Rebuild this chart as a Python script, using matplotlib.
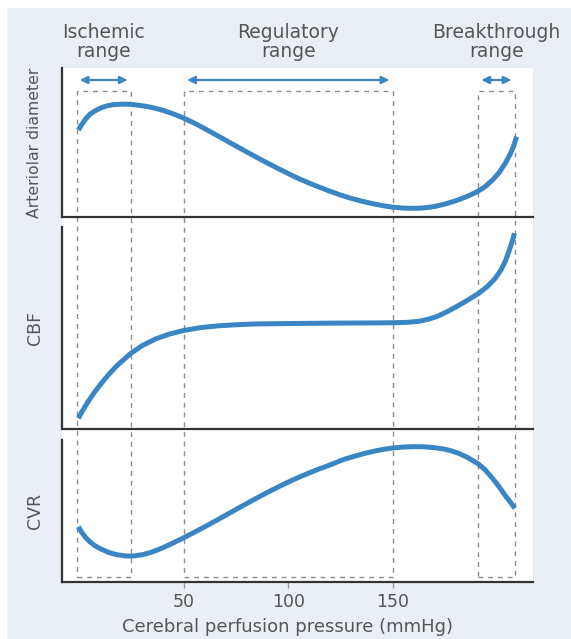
import matplotlib
matplotlib.use("Agg")
import matplotlib.pyplot as plt
from matplotlib.patches import Rectangle

# ---------------- data ----------------
x_diam = [-0.6, 1, 3, 5, 7.5, 10, 13, 16, 20, 24, 28, 32, 36, 40, 45, 50, 55, 60, 65,
          70, 75, 80, 85, 90, 95, 100, 105, 110, 115, 120, 125, 130, 135, 140, 145,
          150, 155, 160, 165, 170, 175, 180, 185, 190, 194, 198, 201, 204, 206.5,
          208, 209.4]
y_diam = [58.3, 62, 66, 69, 71.3, 73.1, 74.5, 75.3, 75.7, 75.6, 75.0, 74.2, 73.0,
          71.5, 69.1, 66.2, 62.9, 59.2, 55.3, 51.4, 47.5, 43.6, 39.8, 36.1, 32.5,
          29.0, 25.6, 22.6, 19.8, 17.1, 14.6, 12.4, 10.5, 8.9, 7.5, 6.4, 5.8, 5.6,
          5.9, 6.8, 8.5, 10.6, 13.2, 16.4, 19.8, 24.8, 29.5, 36, 42.5, 47.5, 53.8]

x_cbf = [-0.6, 0.5, 2, 4, 7.2, 10, 14.1, 18, 24.6, 30, 36.9, 43, 50, 58, 66.6, 75,
         84, 100, 120, 140, 150, 157, 162.5, 167, 171.3, 176, 181.7, 186, 191.3,
         195.5, 199.2, 202, 204, 205.8, 207.2, 208.4]
y_cbf = [5.3, 7.4, 10.1, 13.5, 18.3, 22.1, 27.2, 31.5, 37.5, 41.3, 44.8, 47.0, 48.8,
         50.2, 51.1, 51.6, 52.0, 52.2, 52.4, 52.5, 52.6, 52.8, 53.3, 54.3, 55.7, 58,
         61.2, 63.8, 67.2, 70.6, 74.6, 78.8, 83, 88, 92.5, 96.9]

x_cvr = [-0.6, 1, 3, 5, 7.5, 10, 14, 18, 22, 24, 26, 30, 34, 38, 42, 46, 50, 55, 60,
         62.5, 66, 70, 74, 78.4, 82, 86, 90, 94.4, 98, 102, 106, 110.4, 115, 120,
         126.4, 132, 137, 142.4, 146, 150.3, 155, 159.9, 165, 170, 174.3, 178, 182,
         186, 189, 191, 194, 197, 199.8, 202, 204, 206, 208.6]
y_cvr = [38.8, 34.8, 31, 28, 25.2, 23.2, 20.6, 19.0, 18.2, 18.1, 18.2, 19.0, 20.6,
         22.8, 25.4, 28.2, 31.1, 34.9, 38.8, 40.8, 43.6, 46.9, 50.2, 53.8, 56.7,
         59.9, 63.0, 66.3, 68.9, 71.7, 74.3, 77.0, 79.7, 82.4, 86.2, 88.7, 90.7,
         92.5, 93.5, 94.4, 95.0, 95.3, 95.2, 94.6, 93.7, 92.4, 90.4, 87.6, 85, 83.2,
         79.5, 74.5, 69.4, 65, 60.8, 57, 51.8]

range_names = ["Ischemic\nrange", "Regulatory\nrange", "Breakthrough\nrange"]
range_lo = [-1.5, 50, 191]
range_hi = [24.5, 150, 208.5]

panel_labels = ["Arteriolar diameter", "CBF", "CVR"]
xticks = [50, 100, 150]
xtick_labels = ["50", "100", "150"]
xlabel = "Cerebral perfusion pressure (mmHg)"

# ---------------- layout ----------------
W, H = 571, 639
fig = plt.figure(figsize=(W / 100, H / 100), dpi=100, facecolor="white")

def fx(p):
    return p / W

def fy(p):
    return 1 - p / H

BG = "#e9eff5"
CURVE = "#3a86c4"
TEXT = "#555555"
SPINE = "#333333"
DASH = "#8c8c8c"

# background rectangles
fig.add_artist(Rectangle((fx(7), 0), 1 - fx(7), fy(8), transform=fig.transFigure,
                         facecolor=BG, edgecolor="none", zorder=-10))
fig.add_artist(Rectangle((fx(61.5), fy(582)), fx(533) - fx(61.5), fy(68) - fy(582),
                         transform=fig.transFigure, facecolor="white",
                         edgecolor="none", zorder=-9))

L, R = 61.5, 533
XL = (-8.7, 217.3)

def x_at_px(p):
    return XL[0] + (p - L) * (XL[1] - XL[0]) / (R - L)

# overlay axes spanning the figure (for dashed boxes, arrows, header texts)
ov = fig.add_axes([0, 0, 1, 1], zorder=0.5)
ov.set_xlim(x_at_px(0), x_at_px(W))
ov.set_ylim(H, 0)
ov.axis("off")
ov.patch.set_alpha(0)

BOX_TOP, BOX_BOT, ARROW_Y = 91, 576.7, 80
for name, lo, hi in zip(range_names, range_lo, range_hi):
    ov.plot([lo, hi, hi, lo, lo], [BOX_BOT, BOX_BOT, BOX_TOP, BOX_TOP, BOX_BOT],
            color=DASH, lw=1.0, ls=(0, (3.5, 3.5)))
    ov.annotate("", xy=(hi - 1.5, ARROW_Y), xytext=(lo + 1.5, ARROW_Y),
                arrowprops=dict(arrowstyle="<|-|>,head_length=0.45,head_width=0.22",
                                color=CURVE, lw=1.6, shrinkA=0, shrinkB=0,
                                mutation_scale=10))
    ov.text((lo + hi) / 2, 42, name, ha="center", va="center", fontsize=13.5,
            color=TEXT, linespacing=1.05)

# panels
panels = [(68, 216.7), (227, 429), (440, 581.7)]
series = [(x_diam, y_diam), (x_cbf, y_cbf), (x_cvr, y_cvr)]
for i, ((top, bot), (xs, ys), lab) in enumerate(zip(panels, series, panel_labels)):
    ax = fig.add_axes([fx(L), fy(bot), fx(R) - fx(L), fy(top) - fy(bot)], zorder=1)
    ax.patch.set_alpha(0)
    ax.set_xlim(*XL)
    ax.set_ylim(0, 100)
    ax.plot(xs, ys, color=CURVE, lw=3.6, solid_capstyle="butt",
            solid_joinstyle="round", clip_on=False)
    for s in ("top", "right"):
        ax.spines[s].set_visible(False)
    for s in ("left", "bottom"):
        ax.spines[s].set_linewidth(1.6)
        ax.spines[s].set_color(SPINE)
    ax.set_yticks([])
    if i == 2:
        ax.set_xticks(xticks)
        ax.set_xticklabels(xtick_labels, fontsize=12.5, color=TEXT)
        ax.tick_params(axis="x", length=4, width=1, color="#999999", pad=4)
    else:
        ax.set_xticks([])
    fs = 11.3 if i == 0 else 12.5
    fig.text(fx(35), fy((top + bot) / 2), lab, rotation=90, ha="center", va="center",
             fontsize=fs, color=TEXT)

fig.text(fx(288), fy(626.7), xlabel, ha="center", va="center", fontsize=13, color=TEXT)

fig.savefig("out.png", dpi=100, facecolor="white")
